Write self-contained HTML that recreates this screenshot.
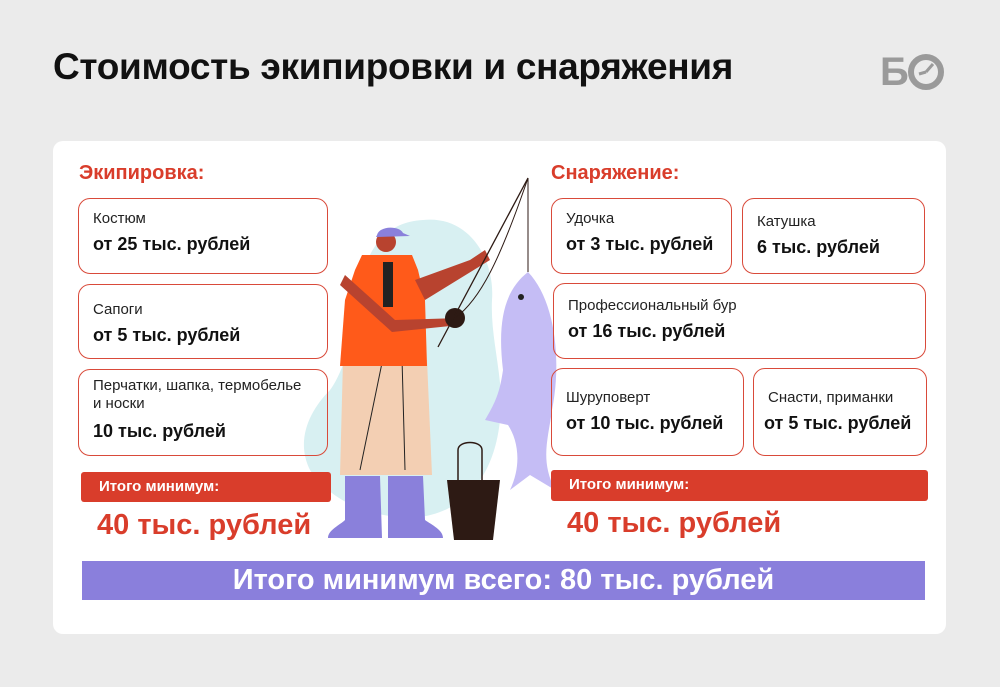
<!DOCTYPE html>
<html><head><meta charset="utf-8"><style>
body{margin:0;width:1000px;height:687px;background:#ebebeb;font-family:"Liberation Sans",sans-serif;position:relative;overflow:hidden}
.a{position:absolute}
h1{position:absolute;left:53px;top:46px;margin:0;font-size:37px;font-weight:bold;color:#111;letter-spacing:-0.3px}
.card{position:absolute;left:53px;top:141px;width:893px;height:493px;background:#fff;border-radius:10px}
.sec{position:absolute;font-size:20px;font-weight:bold;color:#d93d2b}
.box{position:absolute;border:1.5px solid #d94a3a;border-radius:12px;box-sizing:border-box;padding-left:14px}
.l{font-size:15px;color:#222;margin-top:11px;line-height:18px}
.v{font-size:18px;font-weight:bold;color:#111;margin-top:6px}
.bar{position:absolute;background:#d93d2b;border-radius:3px;color:#fff;font-weight:bold;font-size:15px;padding-left:18px;box-sizing:border-box;line-height:30px}
.big{position:absolute;font-size:29px;font-weight:bold;color:#d93d2b}
</style></head><body>
<h1>Стоимость экипировки и снаряжения</h1>
<div class="a" style="left:880px;top:50px;font-size:40px;font-weight:bold;color:#9a9a9a;letter-spacing:-2px">Б</div>
<svg class="a" style="left:905px;top:52px" width="42" height="40"><circle cx="21" cy="20" r="15" fill="none" stroke="#9a9a9a" stroke-width="6"/><path d="M21 20 L28 12 M21 20 L14 22" stroke="#9a9a9a" stroke-width="3"/></svg>
<div class="card"></div>
<div class="sec" style="left:79px;top:162px">Экипировка:</div>
<div class="sec" style="left:551px;top:162px">Снаряжение:</div>

<svg class="a" style="left:0;top:0" width="1000" height="687">
<path d="M423 220 C470 215 495 260 492 300 C490 340 505 380 500 420 C495 470 470 510 420 517 C370 520 330 500 310 470 C295 440 310 410 330 390 C345 370 355 330 360 290 C365 250 385 222 423 220Z" fill="#d8f0f2"/>
<path d="M343 360 L427 360 L432 475 L340 475Z" fill="#f3cfb3"/>
<path d="M360 470 L383 358 M402 358 L405 470" stroke="#222" stroke-width="1"/>
<path d="M345 476 L380 476 L382 538 L328 538 C328 530 340 525 345 520Z" fill="#8a80db"/>
<path d="M388 476 L423 476 L425 520 C432 525 443 530 443 538 L388 538Z" fill="#8a80db"/>
<path d="M362 255 L412 255 L418 270 L425 300 L427 366 L340 366 L345 300 L355 270Z" fill="#ff5a1a"/>
<rect x="383" y="262" width="10" height="45" fill="#222"/>
<circle cx="386" cy="242" r="10" fill="#b8432f"/>
<path d="M377 235 C380 225 400 226 403 233 L410 236 L376 237Z" fill="#8a80db"/>
<path d="M345 275 L395 320 L460 318 L460 325 L392 332 L340 285Z" fill="#b8432f"/>
<path d="M415 280 L470 260 L485 250 L490 260 L425 300Z" fill="#b8432f"/>
<circle cx="455" cy="318" r="10" fill="#2d1a14"/>
<path d="M438 347 L528 178" stroke="#2d1a14" stroke-width="1.3"/>
<path d="M455 318 C480 300 500 260 528 178 L528 272" stroke="#2d1a14" stroke-width="1" fill="none"/>
<path d="M528 272 C555 300 562 360 552 410 C548 440 540 460 555 490 L530 475 L510 490 C522 465 518 440 508 425 L485 420 C497 400 500 390 503 370 C497 320 505 290 528 272Z" fill="#c5bdf5"/>
<circle cx="521" cy="297" r="3" fill="#222"/>
<path d="M458 480 L458 450 C458 440 482 440 482 450 L482 480" stroke="#2d1a14" stroke-width="1.5" fill="none"/>
<path d="M447 480 L500 480 L493 540 L454 540Z" fill="#2d1a14"/>
</svg>

<div class="box" style="left:78px;top:198px;width:250px;height:76px"><div class="l">Костюм</div><div class="v">от 25 тыс. рублей</div></div>
<div class="box" style="left:78px;top:284px;width:250px;height:75px"><div class="l" style="margin-top:16px">Сапоги</div><div class="v">от 5 тыс. рублей</div></div>
<div class="box" style="left:78px;top:369px;width:250px;height:87px"><div class="l" style="margin-top:7px">Перчатки, шапка, термобелье<br>и носки</div><div class="v" style="margin-top:8px">10 тыс. рублей</div></div>
<div class="bar" style="left:81px;top:472px;width:250px;height:30px">Итого минимум:</div>
<div class="big" style="left:97px;top:509px">40 тыс. рублей</div>

<div class="box" style="left:551px;top:198px;width:181px;height:76px"><div class="l">Удочка</div><div class="v">от 3 тыс. рублей</div></div>
<div class="box" style="left:742px;top:198px;width:183px;height:76px"><div class="l" style="margin-top:14px">Катушка</div><div class="v">6 тыс. рублей</div></div>
<div class="box" style="left:553px;top:283px;width:373px;height:76px"><div class="l" style="margin-top:13px">Профессиональный бур</div><div class="v">от 16 тыс. рублей</div></div>
<div class="box" style="left:551px;top:368px;width:193px;height:88px"><div class="l" style="margin-top:20px">Шуруповерт</div><div class="v">от 10 тыс. рублей</div></div>
<div class="box" style="left:753px;top:368px;width:174px;height:88px"><div class="l" style="margin-top:20px;padding-left:0">Снасти, приманки</div><div class="v" style="margin-left:-4px">от 5 тыс. рублей</div></div>
<div class="bar" style="left:551px;top:470px;width:377px;height:31px">Итого минимум:</div>
<div class="big" style="left:567px;top:507px">40 тыс. рублей</div>

<div class="a" style="left:82px;top:561px;width:843px;height:39px;background:#8a7fdc;color:#fff;font-size:29px;font-weight:bold;text-align:center;line-height:39px">Итого минимум всего: 80 тыс. рублей</div>
</body></html>
